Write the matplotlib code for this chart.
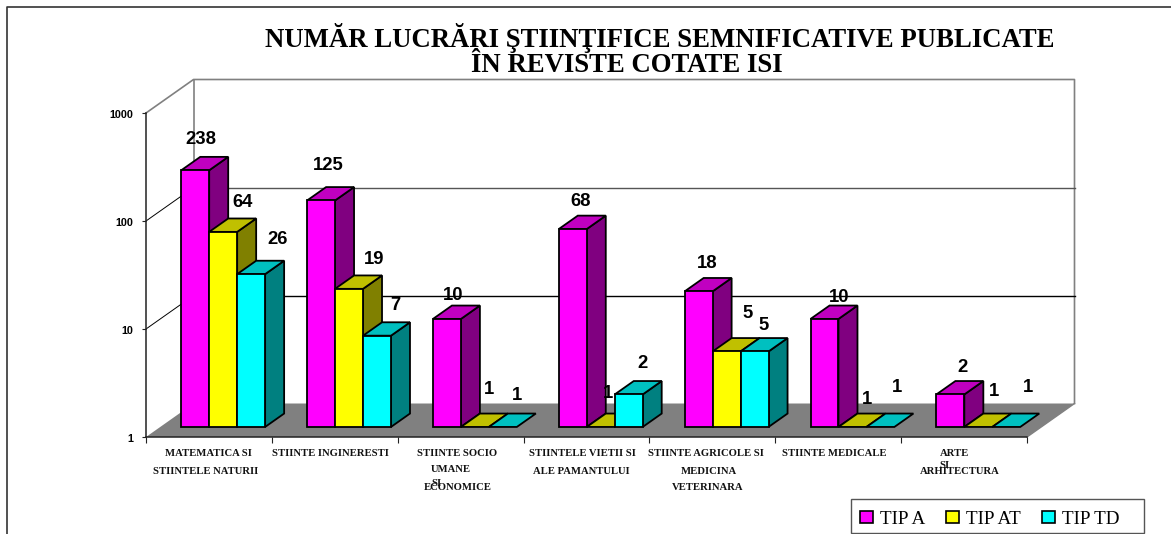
import numpy as np
import matplotlib
matplotlib.use("Agg")
import matplotlib.pyplot as plt
from matplotlib.patches import Polygon, Patch, Rectangle
from matplotlib.lines import Line2D
from matplotlib.transforms import ScaledTranslation

W, H = 1171, 534

series_names = ["TIP A", "TIP AT", "TIP TD"]
tip_a = [238, 125, 10, 68, 18, 10, 2]
tip_at = [64, 19, 1, 1, 5, 1, 1]
tip_td = [26, 7, 1, 2, 5, 1, 1]

title_lines = ["NUMĂR LUCRĂRI ŞTIINŢIFICE SEMNIFICATIVE PUBLICATE", "ÎN REVISTE COTATE ISI"]
y_ticks = [1, 10, 100, 1000]

# x labels are placed by hand, the original wraps them oddly
x_labels = [
    ("MATEMATICA SI", 208, 454), ("STIINTELE NATURII", 206, 471),
    ("STIINTE INGINERESTI", 330, 454),
    ("STIINTE SOCIO", 457, 454), ("UMANE", 451, 470), ("SI", 436, 483), ("ECONOMICE", 458, 487),
    ("STIINTELE VIETII SI", 582, 454), ("ALE PAMANTULUI", 581, 471),
    ("STIINTE AGRICOLE SI", 706, 454), ("MEDICINA", 709, 471), ("VETERINARA", 708, 487),
    ("STIINTE MEDICALE", 834, 454),
    ("ARTE", 954.5, 454), ("SI", 945, 465), ("ARHITECTURA", 960, 471),
]

# value label positions in pixels, one row per category
label_pos = [
    [(201, 140), (243, 203), (278, 240)],
    [(328, 166), (374, 259), (395, 305)],
    [(453, 295), (489, 390), (517, 396)],
    [(581, 202), (608, 393), (642, 363)],
    [(707, 264), (748, 313), (764, 326)],
    [(839, 298), (867, 400), (897, 387)],
    [(963, 367), (994, 391), (1028, 388)],
]

front_colors = ["#FF00FF", "#FFFF00", "#00FFFF"]
side_colors = ["#800080", "#808000", "#008080"]
top_colors = ["#C000C0", "#C0C000", "#00C0C0"]

# oblique offset of the back wall, in pixels
DX, DY = 47.5, 33.5
AX_L, AX_R, AX_TOP, AX_BOT = 146, 1027, 113, 437
CAT_PX = (AX_R - AX_L) / 7
DEC_PX = (AX_BOT - AX_TOP) / 3
Z0, Z1 = 0.3, 0.7
BAR_W = 2 / 9
GAP = 1 / 6


def proj(x, v, z):
    # category / value / depth to the axes data coords
    return x + z * DX / CAT_PX, v * 10 ** (z * DY / DEC_PX)


def px_text(x, y, s, **kw):
    fig.text(x / W, 1 - y / H, s, ha="center", va="center", **kw)


fig = plt.figure(figsize=(W / 100, H / 100), dpi=100)
ax = fig.add_axes([AX_L / W, 1 - AX_BOT / H, (AX_R - AX_L) / W, (AX_BOT - AX_TOP) / H])
ax.set_xlim(0, 7)
ax.set_yscale("log")
ax.set_ylim(1, 1000)
ax.patch.set_visible(False)


def face(points, color, lw=1.3, ec="black", zorder=3):
    ax.add_patch(Polygon(points, closed=True, facecolor=color, edgecolor=ec, linewidth=lw,
                         joinstyle="miter", clip_on=False, zorder=zorder))


# floor
face([proj(0, 1, 0), proj(7, 1, 0), proj(7, 1, 1), proj(0, 1, 1)], "#808080", lw=0, ec="none", zorder=1)

# walls
wall = dict(color="#808080", lw=1.2, clip_on=False, zorder=1.5)
ax.plot(*zip(proj(0, 1000, 0), proj(0, 1000, 1), proj(7, 1000, 1), proj(7, 1, 1)), **wall)
ax.plot(*zip(proj(0, 1000, 1), proj(0, 1, 1)), **wall)
ax.plot(*zip(proj(7, 1, 1), proj(7, 1, 0)), color="#808080", lw=1.0, clip_on=False, zorder=1.5)

# gridlines on left and back wall
for v, c in zip(y_ticks[1:3], ["black", "#555555"]):
    ax.plot(*zip(proj(7, v, 1), proj(0, v, 1)), color=c, lw=1.0, clip_on=False, zorder=1.5)
    ax.plot(*zip(proj(0, v, 0), proj(0, v, 1)), color="black", lw=0.7, clip_on=False, zorder=1.5)

# bars, left to right so the next bar hides the side of the previous one
values = [tip_a, tip_at, tip_td]
for c in range(7):
    for s in range(3):
        v = values[s][c]
        x0 = c + GAP + s * BAR_W
        x1 = x0 + BAR_W
        if v > 1:
            face([proj(x1, 1, Z0), proj(x1, 1, Z1), proj(x1, v, Z1), proj(x1, v, Z0)], side_colors[s])
        face([proj(x0, v, Z0), proj(x1, v, Z0), proj(x1, v, Z1), proj(x0, v, Z1)], top_colors[s])
        if v > 1:
            face([proj(x0, 1, Z0), proj(x1, 1, Z0), proj(x1, v, Z0), proj(x0, v, Z0)], front_colors[s])
        lx, ly = label_pos[c][s]
        px_text(lx, ly, str(v), family="Liberation Sans", fontweight="bold", fontsize=13.3, color="black", zorder=5)

# axes
for side in ["top", "right"]:
    ax.spines[side].set_visible(False)
for side in ["left", "bottom"]:
    ax.spines[side].set_color("#222222")
    ax.spines[side].set_linewidth(1.1)
    ax.spines[side].set_zorder(2)
ax.set_yticks(y_ticks)
ax.set_yticklabels([str(t) for t in y_ticks], family="Liberation Sans", fontweight="bold", fontsize=7.8)
ax.minorticks_off()
ax.tick_params(axis="y", length=3, width=0.8, pad=6, color="#222222")
# the tick labels sit a little under their ticks in the original
nudge = ScaledTranslation(0, -1.5 / 100, fig.dpi_scale_trans)
for lab in ax.get_yticklabels():
    lab.set_transform(lab.get_transform() + nudge)
ax.set_xticks(range(8))
ax.set_xticklabels([])
ax.tick_params(axis="x", length=4, width=0.8, color="#222222")

for text, x, y in x_labels:
    px_text(x, y, text, family="Liberation Serif", fontweight="bold", fontsize=7.7, color="#111111")

# title
px_text(660, 38, title_lines[0], family="Liberation Serif", fontweight="bold", fontsize=19.3)
px_text(627, 66, title_lines[1], family="Liberation Serif", fontweight="bold", fontsize=19.3)

# outer border, the picture is cut off on the right and at the bottom
fig.add_artist(Line2D([7 / W, 7 / W, 1], [0, 1 - 6.5 / H, 1 - 6.5 / H], color="#333333", lw=1.2))

# legend
fig.add_artist(Rectangle((851 / W, 1 / H), 293 / W, 34 / H, transform=fig.transFigure, facecolor="white",
                         edgecolor="#555555", linewidth=1.0))
handles = [Patch(facecolor=col, edgecolor="black", linewidth=1.2) for col in front_colors]
leg = fig.legend(handles, series_names, loc="lower left", bbox_to_anchor=(860 / W, 1 - 528 / H), ncol=3,
                 frameon=False, prop={"family": "Liberation Serif", "size": 13.8}, borderpad=0, borderaxespad=0,
                 handlelength=0.66, handleheight=0.62, handletextpad=0.38, columnspacing=1.1)
leg.set_zorder(6)

fig.savefig("out.png", dpi=100)
